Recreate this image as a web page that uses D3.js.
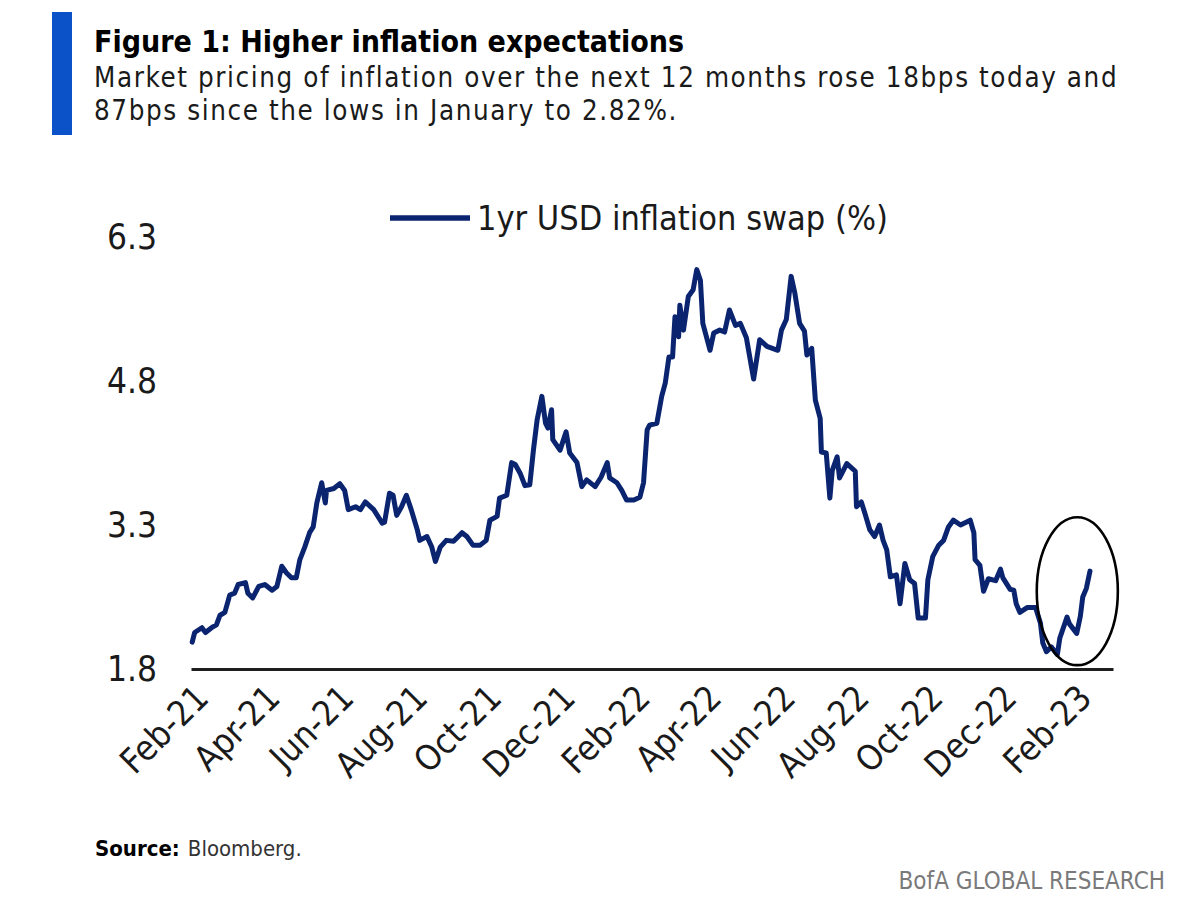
<!DOCTYPE html>
<html>
<head>
<meta charset="utf-8">
<script src="https://cdn.jsdelivr.net/npm/d3@7"></script>
<style>
  html, body { margin: 0; padding: 0; background: #ffffff; }
  svg { display: block; }
</style>
</head>
<body>
<svg id="chart" width="1200" height="900"></svg>
<script>
// ---------------- DATA ----------------
const titleText = "Figure 1: Higher inflation expectations";
const subtitleLines = [
  "Market pricing of inflation over the next 12 months rose 18bps today and",
  "87bps since the lows in January to 2.82%."
];
const seriesName = "1yr USD inflation swap (%)";
const sourceLabel = "Source:";
const sourceText = "Bloomberg.";
const brandText = "BofA GLOBAL RESEARCH";

const yTicks = [1.8, 3.3, 4.8, 6.3];
const xTickDates = ["2021-02-01","2021-04-01","2021-06-01","2021-08-01","2021-10-01","2021-12-01",
                    "2022-02-01","2022-04-01","2022-06-01","2022-08-01","2022-10-01","2022-12-01","2023-02-01"];
const xDomain = ["2021-02-01", "2023-03-05"];
const yDomain = [1.8, 6.3];

const dates = [
"2021-02-02","2021-02-04","2021-02-10","2021-02-13","2021-02-18","2021-02-22","2021-02-25","2021-03-01","2021-03-05","2021-03-09",
"2021-03-12","2021-03-18","2021-03-20","2021-03-24","2021-03-29","2021-04-03","2021-04-09","2021-04-13","2021-04-17","2021-04-21",
"2021-04-25","2021-04-29","2021-05-02","2021-05-06","2021-05-10","2021-05-13","2021-05-16","2021-05-20","2021-05-23","2021-05-24",
"2021-05-30","2021-06-04","2021-06-08","2021-06-11","2021-06-17","2021-06-21","2021-06-25","2021-07-02","2021-07-09","2021-07-11",
"2021-07-15","2021-07-18","2021-07-21","2021-07-25","2021-07-29","2021-08-02","2021-08-07","2021-08-09","2021-08-15","2021-08-19",
"2021-08-22","2021-08-26","2021-08-31","2021-09-06","2021-09-13","2021-09-17","2021-09-22","2021-09-28","2021-10-03","2021-10-06",
"2021-10-12","2021-10-14","2021-10-20","2021-10-24","2021-10-27","2021-10-31","2021-11-04","2021-11-08","2021-11-11","2021-11-14",
"2021-11-18","2021-11-21","2021-11-23","2021-11-26","2021-11-27","2021-12-03","2021-12-08","2021-12-11","2021-12-17","2021-12-21",
"2021-12-25","2022-01-01","2022-01-06","2022-01-11","2022-01-13","2022-01-19","2022-01-23","2022-01-27","2022-02-02","2022-02-07",
"2022-02-10","2022-02-13","2022-02-15","2022-02-21","2022-02-25","2022-02-28","2022-03-03","2022-03-06","2022-03-08","2022-03-11",
"2022-03-12","2022-03-15","2022-03-19","2022-03-23","2022-03-26","2022-03-29","2022-03-31","2022-04-06","2022-04-09","2022-04-14",
"2022-04-18","2022-04-22","2022-04-27","2022-05-01","2022-05-06","2022-05-12","2022-05-17","2022-05-23","2022-06-01","2022-06-04",
"2022-06-08","2022-06-12","2022-06-15","2022-06-19","2022-06-23","2022-06-25","2022-06-29","2022-07-02","2022-07-06","2022-07-07",
"2022-07-11","2022-07-14","2022-07-16","2022-07-20","2022-07-22","2022-07-28","2022-08-04","2022-08-05","2022-08-09","2022-08-12",
"2022-08-16","2022-08-20","2022-08-24","2022-08-27","2022-08-30","2022-09-02","2022-09-07","2022-09-10","2022-09-14","2022-09-18",
"2022-09-22","2022-09-25","2022-10-01","2022-10-03","2022-10-07","2022-10-12","2022-10-16","2022-10-20","2022-10-24","2022-10-30",
"2022-11-07","2022-11-10","2022-11-11","2022-11-15","2022-11-18","2022-11-22","2022-11-28","2022-12-02","2022-12-04","2022-12-10",
"2022-12-13","2022-12-15","2022-12-18","2022-12-24","2022-12-31","2023-01-04","2023-01-06","2023-01-09","2023-01-13","2023-01-18",
"2023-01-20","2023-01-26","2023-01-28","2023-02-03","2023-02-06","2023-02-08","2023-02-11","2023-02-14"
];
const swap1y = [
2.08,2.18,2.23,2.18,2.23,2.26,2.36,2.39,2.57,2.59,
2.68,2.70,2.59,2.54,2.66,2.68,2.62,2.66,2.87,2.80,
2.75,2.75,2.94,3.07,3.22,3.28,3.53,3.74,3.53,3.66,
3.68,3.73,3.66,3.46,3.49,3.46,3.54,3.46,3.32,3.33,
3.63,3.61,3.40,3.49,3.61,3.46,3.25,3.14,3.18,3.07,
2.92,3.07,3.14,3.13,3.22,3.18,3.09,3.09,3.14,3.35,
3.39,3.58,3.61,3.95,3.93,3.84,3.71,3.72,4.08,4.39,
4.64,4.36,4.31,4.50,4.19,4.08,4.27,4.05,3.95,3.70,
3.77,3.70,3.80,3.95,3.79,3.74,3.66,3.56,3.56,3.59,
3.74,4.29,4.34,4.36,4.64,4.78,5.05,5.05,5.47,5.26,
5.59,5.33,5.68,5.75,5.96,5.85,5.40,5.12,5.30,5.33,
5.31,5.54,5.38,5.40,5.25,4.82,5.23,5.16,5.12,5.33,
5.44,5.89,5.72,5.40,5.32,5.07,5.14,4.60,4.41,4.06,
4.05,3.58,3.87,4.01,3.79,3.94,3.86,3.49,3.54,3.42,
3.25,3.18,3.30,3.14,3.04,2.76,2.78,2.48,2.90,2.73,
2.69,2.33,2.33,2.73,2.97,3.09,3.14,3.28,3.35,3.30,
3.35,3.22,2.94,2.88,2.61,2.74,2.72,2.84,2.75,2.63,
2.62,2.48,2.39,2.44,2.44,2.28,2.07,1.98,2.03,1.95,
2.12,2.34,2.27,2.17,2.35,2.55,2.64,2.82
];
// highlighted window (ellipse annotation): date span and value span
const highlightDates = ["2023-01-01", "2023-03-09"];
const highlightValues = [1.84, 3.38];

// ---------------- CHART ----------------
const parse = d3.utcParse("%Y-%m-%d");
const data = dates.map((d, i) => ({ date: parse(d), value: swap1y[i] }));

const svg = d3.select("#chart");
const FONT = '"DejaVu Sans Condensed", "Liberation Sans Narrow", sans-serif';
const NAVY = "#0a2470";

const x = d3.scaleUtc().domain(xDomain.map(parse)).range([191, 1113]);
const y = d3.scaleLinear().domain(yDomain).range([669, 237]);

// Header
svg.append("rect").attr("x", 52).attr("y", 12).attr("width", 20).attr("height", 123).attr("fill", "#0b52c9");
svg.append("text").attr("x", 94).attr("y", 52).attr("font-family", FONT).attr("font-weight", "bold")
  .attr("font-size", 30).attr("fill", "#000").text(titleText);
svg.selectAll(".sub").data(subtitleLines).enter().append("text")
  .attr("class", "sub")
  .attr("x", 94).attr("y", (d, i) => 87 + i * 32.5)
  .attr("font-family", FONT).attr("font-size", 27.5).attr("letter-spacing", 1.6)
  .attr("fill", "#1a1a1a").text(d => d);

// Legend
svg.append("line").attr("x1", 390).attr("x2", 470).attr("y1", 218).attr("y2", 218)
  .attr("stroke", NAVY).attr("stroke-width", 5.5);
svg.append("text").attr("x", 477).attr("y", 218).attr("dy", "0.35em")
  .attr("font-family", FONT).attr("font-size", 34).attr("fill", "#1a1a1a").text(seriesName);

// Y axis (labels only)
const yAxis = svg.append("g").attr("transform", "translate(191,0)")
  .call(d3.axisLeft(y).tickValues(yTicks).tickFormat(d3.format(".1f")).tickSize(0).tickPadding(34));
yAxis.select(".domain").remove();
yAxis.selectAll("text").attr("font-family", FONT).attr("font-size", 35).attr("fill", "#1a1a1a");

// X axis
const xAxis = svg.append("g").attr("transform", "translate(0,669)")
  .call(d3.axisBottom(x).tickValues(xTickDates.map(parse)).tickFormat(d3.utcFormat("%b-%y")).tickSize(0));
xAxis.select(".domain").attr("stroke", "#1e1e1e").attr("stroke-width", 3);
xAxis.selectAll("text")
  .attr("font-family", FONT).attr("font-size", 35).attr("fill", "#1a1a1a")
  .attr("text-anchor", "end").attr("dy", null).attr("y", 0)
  .attr("transform", "translate(19,31) rotate(-45)");

// Line
const line = d3.line().x(d => x(d.date)).y(d => y(d.value));
svg.append("path").datum(data).attr("d", line)
  .attr("fill", "none").attr("stroke", NAVY).attr("stroke-width", 5)
  .attr("stroke-linejoin", "round").attr("stroke-linecap", "round");

// Ellipse annotation
const hx0 = x(parse(highlightDates[0])), hx1 = x(parse(highlightDates[1]));
const hy0 = y(highlightValues[1]), hy1 = y(highlightValues[0]);
svg.append("ellipse").attr("cx", (hx0 + hx1) / 2).attr("cy", (hy0 + hy1) / 2)
  .attr("rx", (hx1 - hx0) / 2).attr("ry", (hy1 - hy0) / 2)
  .attr("fill", "none").attr("stroke", "#000").attr("stroke-width", 2.6);

// Footer
const src = svg.append("text").attr("x", 95).attr("y", 856).attr("font-family", FONT).attr("font-size", 22).attr("fill", "#000");
src.append("tspan").attr("font-weight", "bold").text(sourceLabel);
src.append("tspan").attr("dx", 8).attr("fill", "#333").text(sourceText);
svg.append("text").attr("x", 1165).attr("y", 889).attr("text-anchor", "end")
  .attr("font-family", FONT).attr("font-size", 24).attr("fill", "#7a7a7a").text(brandText);
</script>
</body>
</html>
